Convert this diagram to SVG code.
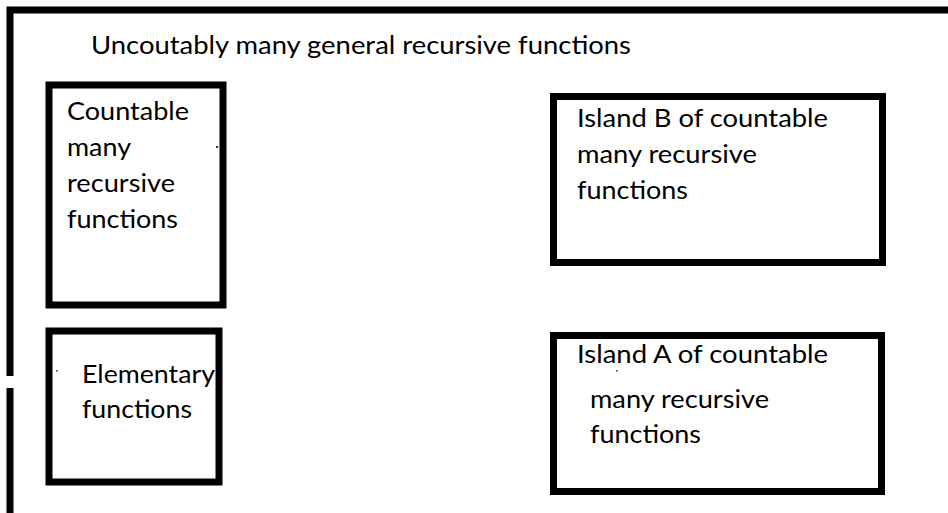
<svg xmlns="http://www.w3.org/2000/svg" width="948" height="513" viewBox="0 0 948 513">
<style>
.box{fill:none;stroke:#000;stroke-width:7}
.frame{fill:none;stroke:#000;stroke-width:7}
.t{font-family:"Lato","Open Sans","Liberation Sans",sans-serif;font-size:25px;fill:#000}
.dot{fill:#333}
</style>
<rect width="948" height="513" fill="#fff"/>
<g id="frame">
<path class="frame" d="M948 10 H10 V376"/>
<path class="frame" d="M10 388 V513"/>
<text class="t" x="91" y="54" textLength="540" lengthAdjust="spacingAndGlyphs">Uncoutably many general recursive functions</text>
</g>
<g id="countable">
<rect class="box" x="49" y="85" width="174" height="220"/>
<text class="t" x="67" y="120" textLength="122" lengthAdjust="spacingAndGlyphs">Countable</text>
<text class="t" x="67" y="156" textLength="64" lengthAdjust="spacingAndGlyphs">many</text>
<text class="t" x="67" y="192" textLength="108" lengthAdjust="spacingAndGlyphs">recursive</text>
<text class="t" x="67" y="228" textLength="111" lengthAdjust="spacingAndGlyphs">functions</text>
<rect class="dot" x="216" y="146" width="2" height="2"/>
</g>
<g id="elementary">
<rect class="box" x="49" y="331" width="170" height="151"/>
<text class="t" x="82" y="383" textLength="133" lengthAdjust="spacingAndGlyphs">Elementary</text>
<text class="t" x="82" y="418" textLength="110" lengthAdjust="spacingAndGlyphs">functions</text>
<rect class="dot" x="56" y="370" width="1.5" height="1.5"/>
</g>
<g id="islandB">
<rect class="box" x="553.5" y="96.5" width="329" height="166"/>
<text class="t" x="577" y="127" textLength="251" lengthAdjust="spacingAndGlyphs">Island B of countable</text>
<text class="t" x="577" y="163" textLength="180" lengthAdjust="spacingAndGlyphs">many recursive</text>
<text class="t" x="577" y="199" textLength="111" lengthAdjust="spacingAndGlyphs">functions</text>
</g>
<g id="islandA">
<rect class="box" x="553.5" y="335.5" width="328" height="156"/>
<text class="t" x="577" y="363" textLength="251" lengthAdjust="spacingAndGlyphs">Island A of countable</text>
<text class="t" x="590" y="408" textLength="179" lengthAdjust="spacingAndGlyphs">many recursive</text>
<text class="t" x="590" y="443" textLength="111" lengthAdjust="spacingAndGlyphs">functions</text>
<rect class="dot" x="616" y="370" width="1.5" height="1.5"/>
</g>
</svg>
